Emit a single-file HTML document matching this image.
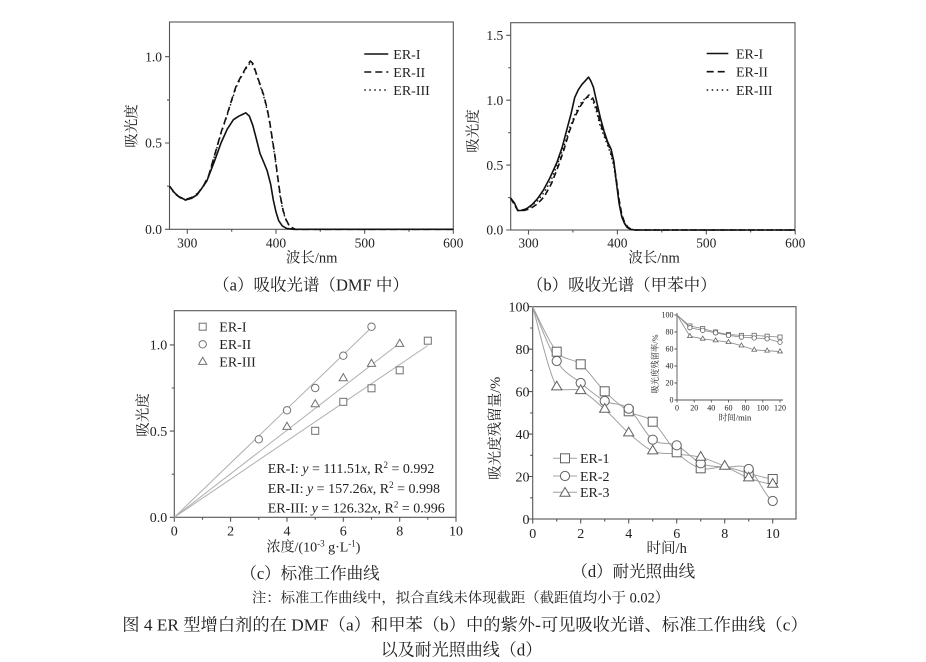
<!DOCTYPE html>
<html><head><meta charset="utf-8">
<style>
html,body{margin:0;padding:0;background:#fff;}
svg{display:block;}
text{font-family:"Liberation Serif","Noto Serif CJK SC",serif;fill:#222;}
</style></head>
<body>
<svg width="926" height="662" viewBox="0 0 926 662" xmlns="http://www.w3.org/2000/svg">
<defs>
<rect id="sqD" x="-4.5" y="-4.5" width="9" height="9"/>
<circle id="ciD" r="4.6"/>
<polygon id="trD" points="0,-5.8 -5.1,2.9 5.1,2.9"/>
<rect id="sqC" x="-3.5" y="-3.5" width="7" height="7"/>
<circle id="ciC" r="3.7"/>
<polygon id="trC" points="0,-4.7 -4.1,2.4 4.1,2.4"/>
<rect id="sqI" x="-2.1" y="-2.1" width="4.2" height="4.2"/>
<circle id="ciI" r="2.2"/>
<polygon id="trI" points="0,-2.7 -2.4,1.4 2.4,1.4"/>
</defs>

<!-- ================= Panel A ================= -->
<g fill="none" stroke="#555" stroke-width="1.1">
<rect x="169.5" y="22" width="283.8" height="207.3"/>
<path d="M187.3,229.3v4.5M276,229.3v4.5M364.7,229.3v4.5M453.3,229.3v4.5M231.7,229.3v2.5M320.3,229.3v2.5M409,229.3v2.5
M169.5,229.3h-4.5M169.5,143h-4.5M169.5,56.7h-4.5M169.5,186.2h-2.5M169.5,99.9h-2.5"/>
</g>
<g font-size="13.5" text-anchor="end">
<text x="162" y="234">0.0</text><text x="162" y="147.7">0.5</text><text x="162" y="61.4">1.0</text>
</g>
<g font-size="13.5" text-anchor="middle">
<text x="187.3" y="247.5">300</text><text x="276" y="247.5">400</text><text x="364.7" y="247.5">500</text><text x="453.3" y="247.5">600</text>
</g>
<text x="311.7" y="262.5" font-size="14.5" text-anchor="middle">波长/nm</text>
<text transform="translate(136.5,126) rotate(-90)" font-size="14.5" text-anchor="middle">吸光度</text>
<g fill="none" stroke="#111" stroke-width="1.6" stroke-linejoin="round">
<polyline points="169.6,186.2 174,192.2 178.5,196.5 185.6,200 191.8,198.2 197.1,194.8 201.5,188.7 206.8,181 214.8,160.3 221,143 227.2,129.2 233.4,119.7 238.8,116.2 242.3,114.5 245.8,112.8 249.4,116.2 252.9,125.7 256.5,139.5 260,153.4 263.6,162 267.1,170.6 270.7,184.4 273.3,200 276,212 278.7,220.7 282.2,225.8 286.6,228.4 293.7,229.3 453.3,229.3"/>
<polyline stroke-dasharray="7 4" points="169.6,186.2 174,192.2 178.5,196.5 185.6,199.6 191.8,197.4 198,193.1 203.3,186.1 208.6,175.8 216.6,148.2 221,132.6 226.3,117.1 231.7,99.8 236.1,86 240.5,77.4 245.8,67.9 250.3,61 252.9,63.6 256.5,74 260,84.3 263.6,94.7 267.1,108.5 269.8,122.3 272.4,139.5 275.1,156.8 277.8,177.5 280.4,196.5 283.1,210.3 285.7,218.9 288.4,224.1 291.9,227.6 295.5,229.3 453.3,229.3"/>
<polyline stroke-dasharray="1.5 3.5" stroke-width="1.4" points="169.6,186.8 174,192.8 178.5,197 185.6,200.2 191.8,198 198,193.6 203.3,186.6 208.6,176.5 216.6,149 221,133.5 226.3,118 231.7,101 236.1,87.5 240.5,78.5 245.8,69 250.3,62.5 252.9,65 256.5,75 260,85.5 263.6,96 267.1,110 269.8,124 272.4,141 275.1,158.5 277.8,179 280.4,198 283.1,211.5 285.7,219.5 288.4,224.5 291.9,227.8 296,229.3 453.3,229.3"/>
</g>
<g stroke="#111" stroke-width="1.6">
<line x1="364.3" y1="54" x2="388.3" y2="54"/>
<line x1="364.3" y1="72" x2="388.3" y2="72" stroke-dasharray="7 4"/>
<line x1="364.3" y1="90" x2="388.3" y2="90" stroke-dasharray="1.5 3.5"/>
</g>
<g font-size="14"><text x="393.3" y="58.8">ER-I</text><text x="393.3" y="76.8">ER-II</text><text x="393.3" y="94.8">ER-III</text></g>
<text x="311" y="285" font-size="16.5" text-anchor="middle" dominant-baseline="central">（a）吸收光谱（DMF 中）</text>

<!-- ================= Panel B ================= -->
<g fill="none" stroke="#555" stroke-width="1.1">
<rect x="510.7" y="22.7" width="284.3" height="207.3"/>
<path d="M528.5,230v4.5M617.4,230v4.5M706.3,230v4.5M795.2,230v4.5M572.9,230v2.5M661.8,230v2.5M750.7,230v2.5
M510.7,230h-4.5M510.7,165.1h-4.5M510.7,100.2h-4.5M510.7,35.3h-4.5M510.7,197.55h-2.5M510.7,132.65h-2.5M510.7,67.75h-2.5"/>
</g>
<g font-size="13.5" text-anchor="end">
<text x="503.3" y="234.7">0.0</text><text x="503.3" y="169.8">0.5</text><text x="503.3" y="104.9">1.0</text><text x="503.3" y="40">1.5</text>
</g>
<g font-size="13.5" text-anchor="middle">
<text x="528.5" y="247.5">300</text><text x="617.4" y="247.5">400</text><text x="706.3" y="247.5">500</text><text x="795.2" y="247.5">600</text>
</g>
<text x="654" y="262.5" font-size="14.5" text-anchor="middle">波长/nm</text>
<text transform="translate(478,131) rotate(-90)" font-size="14.5" text-anchor="middle">吸光度</text>
<g fill="none" stroke="#111" stroke-width="1.6" stroke-linejoin="round">
<polyline points="510.7,198.2 514.3,202.7 517.8,210.5 521.4,210.5 526.7,208.6 532,204.7 537.4,198.8 543.6,189.8 549.8,178.1 556.9,162.5 562.3,146.9 566.7,130.1 571.2,113.2 574.7,97.6 578.3,89.8 581.8,84.6 585.4,80.7 588.5,77.1 590.7,80.7 593.4,87.2 596.9,102.8 600.5,118.4 604.1,131.4 607.6,141.7 611.2,149.5 613.8,161.2 616.5,183.3 619.2,204 621.8,217 624.5,223.5 627.2,227.4 630.7,229.4 635.2,230 795,230"/>
<polyline stroke-dasharray="6 3.5" points="510.7,198.2 517.8,210.5 524,210.5 530.3,208.6 537.4,204 544.5,196.3 551.6,183.3 558.7,165.1 564,149.5 569.4,131.4 574.7,117.1 580,106.7 585.4,98.9 588.9,95 592.5,97.6 596.1,106.7 599.6,121 603.2,131.4 606.7,140.4 610.3,149.5 613.8,162.5 616.5,180.7 619.2,200.1 621.8,214.4 624.5,222.2 628.1,227.4 632.5,230 795,230"/>
<polyline stroke-dasharray="1.5 3" stroke-width="1.4" points="510.7,198.2 517.8,210.5 524,209.5 530.3,207 537.4,201 544.5,192 551.6,179 558.7,161 564,146 569.4,128.5 574.7,115 580,104 585.4,98 588.9,97 592.5,100 596.1,110 599.6,124 603.2,134 606.7,143 610.3,153 613.8,166 616.5,184 619.2,203 621.8,216 624.5,223 628.1,227.6 633.5,230 795,230"/>
</g>
<g stroke="#111" stroke-width="1.6">
<line x1="706.7" y1="53.5" x2="728.3" y2="53.5"/>
<line x1="706.7" y1="71.7" x2="728.3" y2="71.7" stroke-dasharray="7 4"/>
<line x1="706.7" y1="90" x2="728.3" y2="90" stroke-dasharray="1.5 3.5"/>
</g>
<g font-size="14"><text x="736" y="58.3">ER-I</text><text x="736" y="76.5">ER-II</text><text x="736" y="94.8">ER-III</text></g>
<text x="621.7" y="285" font-size="16.5" text-anchor="middle" dominant-baseline="central">（b）吸收光谱（甲苯中）</text>

<!-- ================= Panel C ================= -->
<g fill="none" stroke="#555" stroke-width="1.1">
<rect x="174.3" y="310.7" width="281.7" height="206.6"/>
<path d="M174.3,517.3v4.5M230.6,517.3v4.5M287,517.3v4.5M343.3,517.3v4.5M399.7,517.3v4.5M456,517.3v4.5
M202.5,517.3v2.5M258.8,517.3v2.5M315.2,517.3v2.5M371.5,517.3v2.5M427.8,517.3v2.5
M174.3,517.3h-4.5M174.3,431.1h-4.5M174.3,344.9h-4.5M174.3,474.2h-2.5M174.3,388h-2.5"/>
</g>
<g font-size="14" text-anchor="end">
<text x="167.3" y="522">0.0</text><text x="167.3" y="435.8">0.5</text><text x="167.3" y="349.6">1.0</text>
</g>
<g font-size="14" text-anchor="middle">
<text x="174.3" y="535.5">0</text><text x="230.6" y="535.5">2</text><text x="287" y="535.5">4</text><text x="343.3" y="535.5">6</text><text x="399.7" y="535.5">8</text><text x="456" y="535.5">10</text>
</g>
<text x="313.5" y="551.5" font-size="14" text-anchor="middle">浓度/(10<tspan baseline-shift="super" font-size="9">-3</tspan> g·L<tspan baseline-shift="super" font-size="9">-1</tspan>)</text>
<text transform="translate(148,415) rotate(-90)" font-size="14.5" text-anchor="middle">吸光度</text>
<g stroke="#b0b0b0" stroke-width="1">
<line x1="174.3" y1="517.3" x2="427.8" y2="345.5"/>
<line x1="174.3" y1="517.3" x2="371.5" y2="327.5"/>
<line x1="174.3" y1="517.3" x2="399.7" y2="343.1"/>
</g>
<g fill="#fff" stroke="#707070" stroke-width="1">
<use href="#sqC" x="315.2" y="430.8"/><use href="#sqC" x="343.3" y="401.8"/><use href="#sqC" x="371.5" y="388.3"/><use href="#sqC" x="399.7" y="370.3"/><use href="#sqC" x="427.8" y="340.7"/>
<use href="#ciC" x="258.8" y="439.3"/><use href="#ciC" x="287" y="410.3"/><use href="#ciC" x="315.2" y="388"/><use href="#ciC" x="343.3" y="355.7"/><use href="#ciC" x="371.5" y="326.7"/>
<use href="#trC" x="287" y="427"/><use href="#trC" x="315.2" y="404.3"/><use href="#trC" x="343.3" y="378.3"/><use href="#trC" x="371.5" y="364"/><use href="#trC" x="399.7" y="344"/>
<use href="#sqC" x="202.7" y="326.7"/><use href="#ciC" x="202.7" y="344.3"/><use href="#trC" x="202.7" y="362"/>
</g>
<g font-size="14"><text x="219.3" y="331.5">ER-I</text><text x="219.3" y="349">ER-II</text><text x="219.3" y="366.5">ER-III</text></g>
<g font-size="14">
<text x="267.7" y="473">ER-I: <tspan font-style="italic">y</tspan> = 111.51<tspan font-style="italic">x</tspan>, R<tspan baseline-shift="super" font-size="9">2</tspan> = 0.992</text>
<text x="267.7" y="493">ER-II: <tspan font-style="italic">y</tspan> = 157.26<tspan font-style="italic">x</tspan>, R<tspan baseline-shift="super" font-size="9">2</tspan> = 0.998</text>
<text x="267.7" y="512.5">ER-III: <tspan font-style="italic">y</tspan> = 126.32<tspan font-style="italic">x</tspan>, R<tspan baseline-shift="super" font-size="9">2</tspan> = 0.996</text>
</g>
<text x="310" y="573.3" font-size="16.5" text-anchor="middle" dominant-baseline="central">（c）标准工作曲线</text>

<!-- ================= Panel D ================= -->
<g fill="none" stroke="#555" stroke-width="1.1">
<rect x="532.7" y="306.7" width="263.3" height="212.3"/>
<path d="M532.7,519v4.5M580.7,519v4.5M628.7,519v4.5M676.7,519v4.5M724.7,519v4.5M772.7,519v4.5
M556.7,519v2.5M604.7,519v2.5M652.7,519v2.5M700.7,519v2.5M748.7,519v2.5
M532.7,519h-4.5M532.7,476.5h-4.5M532.7,434.1h-4.5M532.7,391.6h-4.5M532.7,349.2h-4.5M532.7,306.7h-4.5
M532.7,497.8h-2.5M532.7,455.3h-2.5M532.7,412.9h-2.5M532.7,370.4h-2.5M532.7,328h-2.5"/>
</g>
<g font-size="14" text-anchor="end">
<text x="529.5" y="523.8">0</text><text x="529.5" y="481.3">20</text><text x="529.5" y="438.9">40</text><text x="529.5" y="396.4">60</text><text x="529.5" y="354">80</text><text x="529.5" y="311.5">100</text>
</g>
<g font-size="14" text-anchor="middle">
<text x="532.7" y="538">0</text><text x="580.7" y="538">2</text><text x="628.7" y="538">4</text><text x="676.7" y="538">6</text><text x="724.7" y="538">8</text><text x="772.7" y="538">10</text>
</g>
<text x="666.7" y="552.8" font-size="14.5" text-anchor="middle">时间/h</text>
<text transform="translate(500,428.3) rotate(-90)" font-size="14.5" text-anchor="middle">吸光度残留量/%</text>
<g fill="none" stroke="#a0a0a0" stroke-width="1" stroke-linejoin="round">
<path d="M532.7,306.7 C536.7,314.2 548.7,342.1 556.7,351.7 C564.7,361.3 572.7,357.7 580.7,364.3 C588.7,370.9 596.7,383.5 604.7,391.3 C612.7,399.1 620.7,406.2 628.7,411.3 C636.7,416.4 644.7,414.9 652.7,421.7 C660.7,428.5 668.7,444.5 676.7,452.3 C684.7,460.1 692.7,465.9 700.7,468.3 C708.7,470.75 716.7,466.2 724.7,467 C732.7,467.8 740.7,471.3 748.7,473.3 C756.7,475.3 764.7,478.05 772.7,479"/>
<path d="M532.7,306.7 C536.7,315.75 548.7,348.3 556.7,361 C564.7,373.7 572.7,376.3 580.7,383 C588.7,389.7 596.7,396.7 604.7,401 C612.7,405.3 620.7,402.25 628.7,408.7 C636.7,415.15 644.7,433.6 652.7,439.7 C660.7,445.8 668.7,441.4 676.7,445.3 C684.7,449.2 692.7,459.7 700.7,463.3 C708.7,466.9 716.7,466.05 724.7,467 C732.7,467.95 740.7,463.3 748.7,469 C756.7,474.7 764.7,495.7 772.7,501"/>
<path d="M532.7,306.7 C536.7,320.1 548.7,373 556.7,387 C564.7,393 572.7,387 580.7,390.7 C588.7,394.4 596.7,402.25 604.7,409.3 C612.7,416.35 620.7,426.05 628.7,433 C636.7,439.95 644.7,447.5 652.7,451 C660.7,454.5 668.7,452.95 676.7,454 C684.7,455.05 692.7,455.25 700.7,457.3 C708.7,459.35 716.7,462.85 724.7,466.3 C732.7,469.75 740.7,475 748.7,478 C756.7,481 764.7,483.25 772.7,484.3"/>
</g>
<g fill="#fff" stroke="#606060" stroke-width="1">
<use href="#sqD" x="556.7" y="351.7"/><use href="#sqD" x="580.7" y="364.3"/><use href="#sqD" x="604.7" y="391.3"/><use href="#sqD" x="628.7" y="411.3"/><use href="#sqD" x="652.7" y="421.7"/><use href="#sqD" x="676.7" y="452.3"/><use href="#sqD" x="700.7" y="468.3"/><use href="#sqD" x="748.7" y="473.3"/><use href="#sqD" x="772.7" y="479"/>
<use href="#ciD" x="556.7" y="361"/><use href="#ciD" x="580.7" y="383"/><use href="#ciD" x="604.7" y="401"/><use href="#ciD" x="628.7" y="408.7"/><use href="#ciD" x="652.7" y="439.7"/><use href="#ciD" x="676.7" y="445.3"/><use href="#ciD" x="700.7" y="463.3"/><use href="#ciD" x="748.7" y="469"/><use href="#ciD" x="772.7" y="501"/>
<use href="#trD" x="556.7" y="387"/><use href="#trD" x="580.7" y="390.7"/><use href="#trD" x="604.7" y="409.3"/><use href="#trD" x="628.7" y="433"/><use href="#trD" x="652.7" y="451"/><use href="#trD" x="700.7" y="457.3"/><use href="#trD" x="724.7" y="466.3"/><use href="#trD" x="748.7" y="478"/><use href="#trD" x="772.7" y="484.3"/>
</g>
<!-- legend d -->
<g stroke="#a0a0a0" stroke-width="1">
<line x1="553" y1="458.3" x2="577" y2="458.3"/><line x1="553" y1="476" x2="577" y2="476"/><line x1="553" y1="492.3" x2="577" y2="492.3"/>
</g>
<g fill="#fff" stroke="#606060" stroke-width="1">
<use href="#sqD" x="565" y="458.3"/><use href="#ciD" x="565" y="476"/><use href="#trD" x="565" y="493.3"/>
</g>
<g font-size="14"><text x="580" y="463.2">ER-1</text><text x="580" y="480.9">ER-2</text><text x="580" y="497.2">ER-3</text></g>

<!-- inset -->
<g fill="none" stroke="#555" stroke-width="0.9">
<path d="M677,313V400H783"/>
<path d="M677,400h-2.5M677,383h-2.5M677,366h-2.5M677,349h-2.5M677,332h-2.5M677,315h-2.5
M677,400v2.5M694.2,400v2.5M711.3,400v2.5M728.5,400v2.5M745.6,400v2.5M762.8,400v2.5M780,400v2.5"/>
</g>
<g font-size="8" text-anchor="end">
<text x="673.5" y="402.7">0</text><text x="673.5" y="385.7">20</text><text x="673.5" y="368.7">40</text><text x="673.5" y="351.7">60</text><text x="673.5" y="334.7">80</text><text x="673.5" y="317.7">100</text>
</g>
<g font-size="8" text-anchor="middle">
<text x="677" y="410.5">0</text><text x="694.2" y="410.5">20</text><text x="711.3" y="410.5">40</text><text x="728.5" y="410.5">60</text><text x="745.6" y="410.5">80</text><text x="762.8" y="410.5">100</text><text x="780" y="410.5">120</text>
</g>
<text x="735" y="420.5" font-size="8.5" text-anchor="middle">时间/min</text>
<text transform="translate(658,364) rotate(-90)" font-size="8.3" text-anchor="middle">吸光度残留率/%</text>
<g fill="none" stroke="#888" stroke-width="0.8">
<polyline points="677,315 689.9,326.05 702.7,328.6 715.6,332 728.5,334.55 741.4,335.4 754.2,335.4 767.1,336.25 780,337.1"/>
<polyline points="677,315 689.9,327.75 702.7,330.3 715.6,332.85 728.5,335.4 741.4,337.1 754.2,337.95 767.1,338.8 780,342.2"/>
<polyline points="677,315 689.9,336.25 702.7,338.8 715.6,340.5 728.5,342.2 741.4,345.6 754.2,349.85 767.1,350.7 780,351.55"/>
</g>
<g fill="#fff" stroke="#666" stroke-width="0.8">
<use href="#sqI" x="689.9" y="326.05"/><use href="#sqI" x="702.7" y="328.6"/><use href="#sqI" x="715.6" y="332"/><use href="#sqI" x="728.5" y="334.55"/><use href="#sqI" x="741.4" y="335.4"/><use href="#sqI" x="754.2" y="335.4"/><use href="#sqI" x="767.1" y="336.25"/><use href="#sqI" x="780" y="337.1"/>
<use href="#ciI" x="689.9" y="327.75"/><use href="#ciI" x="702.7" y="330.3"/><use href="#ciI" x="715.6" y="332.85"/><use href="#ciI" x="728.5" y="335.4"/><use href="#ciI" x="741.4" y="337.1"/><use href="#ciI" x="754.2" y="337.95"/><use href="#ciI" x="767.1" y="338.8"/><use href="#ciI" x="780" y="342.2"/>
<use href="#trI" x="689.9" y="336.25"/><use href="#trI" x="702.7" y="338.8"/><use href="#trI" x="715.6" y="340.5"/><use href="#trI" x="728.5" y="342.2"/><use href="#trI" x="741.4" y="345.6"/><use href="#trI" x="754.2" y="349.85"/><use href="#trI" x="767.1" y="350.7"/><use href="#trI" x="780" y="351.55"/>
</g>
<text x="633.3" y="571.7" font-size="16.5" text-anchor="middle" dominant-baseline="central">（d）耐光照曲线</text>

<!-- captions -->
<text x="460.5" y="598.3" font-size="14.4" text-anchor="middle" dominant-baseline="central">注：标准工作曲线中，拟合直线未体现截距（截距值均小于 0.02）</text>
<text x="465" y="625" font-size="17.3" text-anchor="middle" dominant-baseline="central">图 4 ER 型增白剂的在 DMF（a）和甲苯（b）中的紫外-可见吸收光谱、标准工作曲线（c）</text>
<text x="461.5" y="650" font-size="17" text-anchor="middle" dominant-baseline="central">以及耐光照曲线（d）</text>
</svg>
</body></html>
